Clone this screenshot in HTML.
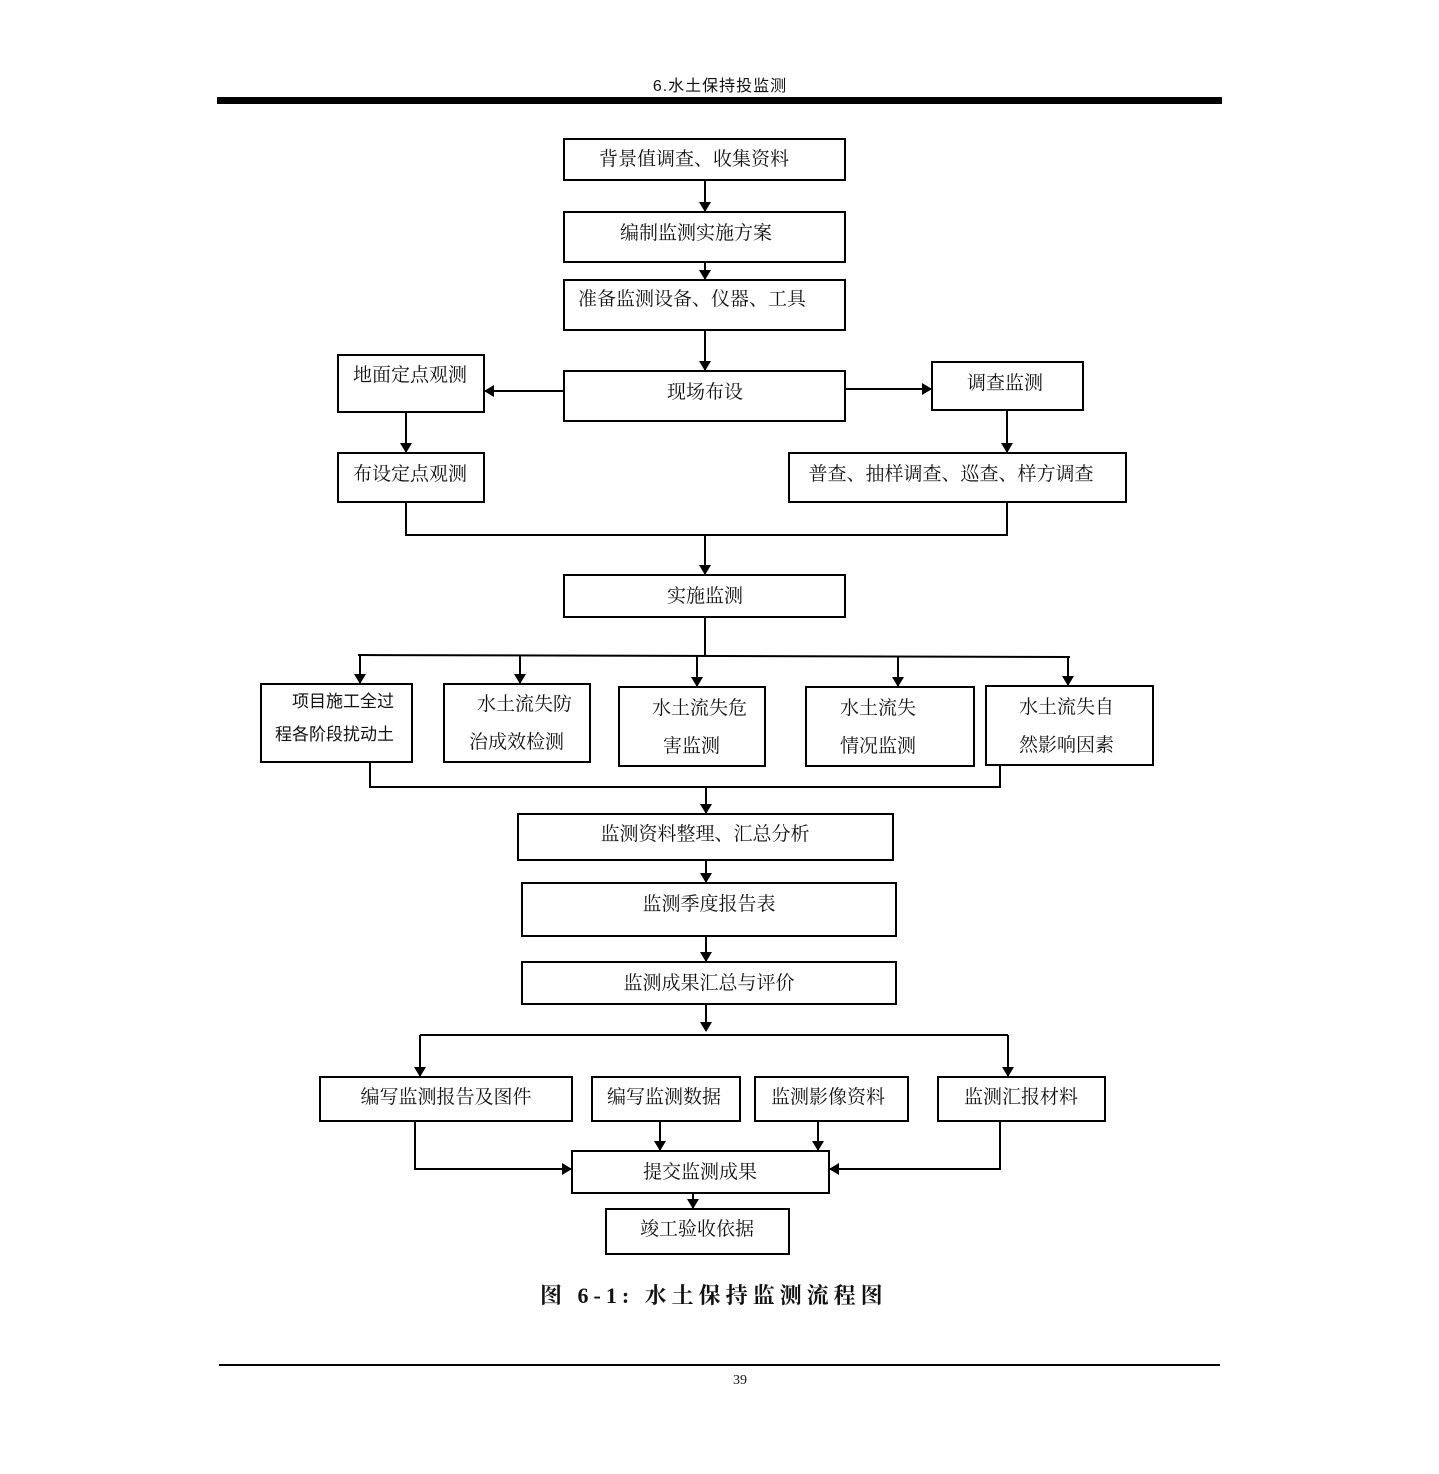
<!DOCTYPE html>
<html><head><meta charset="utf-8"><style>
html,body{margin:0;padding:0;background:#fff;}
svg{display:block;}
text{font-family:"Liberation Serif","Noto Serif CJK SC",serif;fill:#111;}
.t{font-size:19px;}
</style></head><body>
<svg width="1439" height="1474" viewBox="0 0 1439 1474" xmlns="http://www.w3.org/2000/svg">
<defs>
<marker id="a" markerWidth="10" markerHeight="12" refX="9" refY="6" orient="auto" markerUnits="userSpaceOnUse">
<path d="M0,0 L10,6 L0,12 z" fill="#000"/></marker>
</defs>
<text x="720" y="91" text-anchor="middle" style="font-family:'Liberation Sans','Noto Sans CJK SC',sans-serif;font-size:16px;letter-spacing:1px">6.水土保持投监测</text>
<rect x="217" y="97" width="1005" height="7" fill="#000"/>
<g fill="none" stroke="#000" stroke-width="2">
<rect x="564" y="139" width="281" height="41"/>
<rect x="564" y="212" width="281" height="50"/>
<rect x="564" y="280" width="281" height="50"/>
<rect x="564" y="371" width="281" height="50"/>
<rect x="338" y="355" width="146" height="57"/>
<rect x="932" y="362" width="151" height="48"/>
<rect x="338" y="453" width="146" height="49"/>
<rect x="789" y="453" width="337" height="49"/>
<rect x="564" y="575" width="281" height="42"/>
<rect x="261" y="684" width="151" height="78"/>
<rect x="444" y="684" width="146" height="78"/>
<rect x="619" y="687" width="146" height="79"/>
<rect x="806" y="687" width="168" height="79"/>
<rect x="986" y="686" width="167" height="79"/>
<rect x="518" y="814" width="375" height="46"/>
<rect x="522" y="883" width="374" height="53"/>
<rect x="522" y="962" width="374" height="42"/>
<rect x="320" y="1077" width="252" height="44"/>
<rect x="592" y="1077" width="148" height="44"/>
<rect x="755" y="1077" width="153" height="44"/>
<rect x="938" y="1077" width="167" height="44"/>
<rect x="572" y="1151" width="257" height="42"/>
<rect x="606" y="1209" width="183" height="45"/>
<line x1="705" y1="180" x2="705" y2="211" marker-end="url(#a)"/>
<line x1="705" y1="262" x2="705" y2="279" marker-end="url(#a)"/>
<line x1="705" y1="330" x2="705" y2="370" marker-end="url(#a)"/>
<line x1="564" y1="391" x2="485" y2="391" marker-end="url(#a)"/>
<line x1="845" y1="389" x2="931" y2="389" marker-end="url(#a)"/>
<line x1="406" y1="412" x2="406" y2="452" marker-end="url(#a)"/>
<line x1="1007" y1="410" x2="1007" y2="452" marker-end="url(#a)"/>
<polyline points="406,502 406,535 1007,535 1007,502"/>
<line x1="705" y1="535" x2="705" y2="574" marker-end="url(#a)"/>
<line x1="705" y1="617" x2="705" y2="655"/>
<line x1="358" y1="655" x2="1070" y2="657"/>
<line x1="360" y1="655" x2="360" y2="683" marker-end="url(#a)"/>
<line x1="520" y1="655" x2="520" y2="683" marker-end="url(#a)"/>
<line x1="697" y1="656" x2="697" y2="686" marker-end="url(#a)"/>
<line x1="898" y1="656" x2="898" y2="686" marker-end="url(#a)"/>
<line x1="1068" y1="657" x2="1068" y2="685" marker-end="url(#a)"/>
<polyline points="370,762 370,787 1000,787 1000,765"/>
<line x1="706" y1="787" x2="706" y2="813" marker-end="url(#a)"/>
<line x1="706" y1="860" x2="706" y2="882" marker-end="url(#a)"/>
<line x1="706" y1="936" x2="706" y2="961" marker-end="url(#a)"/>
<line x1="706" y1="1004" x2="706" y2="1031" marker-end="url(#a)"/>
<line x1="420" y1="1035" x2="1008" y2="1035"/>
<line x1="420" y1="1035" x2="420" y2="1076" marker-end="url(#a)"/>
<line x1="1008" y1="1035" x2="1008" y2="1076" marker-end="url(#a)"/>
<polyline points="415,1121 415,1169 571,1169" marker-end="url(#a)"/>
<line x1="660" y1="1121" x2="660" y2="1150" marker-end="url(#a)"/>
<line x1="818" y1="1121" x2="818" y2="1150" marker-end="url(#a)"/>
<polyline points="1000,1121 1000,1169 830,1169" marker-end="url(#a)"/>
<line x1="693" y1="1193" x2="693" y2="1208" marker-end="url(#a)"/>
</g>
<g class="t">
<text x="694" y="165" text-anchor="middle" class="t">背景值调查、收集资料</text>
<text x="696" y="239" text-anchor="middle" class="t">编制监测实施方案</text>
<text x="578" y="305" class="t">准备监测设备、仪器、工具</text>
<text x="705" y="398" text-anchor="middle" class="t">现场布设</text>
<text x="410" y="381" text-anchor="middle" class="t">地面定点观测</text>
<text x="1005" y="389" text-anchor="middle" class="t">调查监测</text>
<text x="410" y="480" text-anchor="middle" class="t">布设定点观测</text>
<text x="951" y="480" text-anchor="middle" class="t">普查、抽样调查、巡查、样方调查</text>
<text x="705" y="602" text-anchor="middle" class="t">实施监测</text>
<text x="292" y="707" style="font-family:'Liberation Sans','Noto Sans CJK SC',sans-serif;font-size:17px">项目施工全过</text>
<text x="275" y="740" style="font-family:'Liberation Sans','Noto Sans CJK SC',sans-serif;font-size:17px">程各阶段扰动土</text>
<text x="477" y="710" class="t">水土流失防</text>
<text x="469" y="748" class="t">治成效检测</text>
<text x="652" y="714" class="t">水土流失危</text>
<text x="663" y="752" class="t">害监测</text>
<text x="840" y="714" class="t">水土流失</text>
<text x="840" y="752" class="t">情况监测</text>
<text x="1019" y="713" class="t">水土流失自</text>
<text x="1019" y="751" class="t">然影响因素</text>
<text x="705" y="840" text-anchor="middle" class="t">监测资料整理、汇总分析</text>
<text x="709" y="910" text-anchor="middle" class="t">监测季度报告表</text>
<text x="709" y="989" text-anchor="middle" class="t">监测成果汇总与评价</text>
<text x="446" y="1103" text-anchor="middle" class="t">编写监测报告及图件</text>
<text x="664" y="1103" text-anchor="middle" class="t">编写监测数据</text>
<text x="828" y="1103" text-anchor="middle" class="t">监测影像资料</text>
<text x="1021" y="1103" text-anchor="middle" class="t">监测汇报材料</text>
<text x="700" y="1178" text-anchor="middle" class="t">提交监测成果</text>
<text x="697" y="1235" text-anchor="middle" class="t">竣工验收依据</text>
</g>
<text x="540" y="1303" style="font-family:'Liberation Serif','Noto Serif CJK SC',serif;font-size:22px;font-weight:bold;letter-spacing:5px">图 6-1:  水土保持监测流程图</text>
<rect x="219" y="1364" width="1001" height="2" fill="#000"/>
<text x="740" y="1384" text-anchor="middle" style="font-size:14px">39</text>
</svg>
</body></html>
